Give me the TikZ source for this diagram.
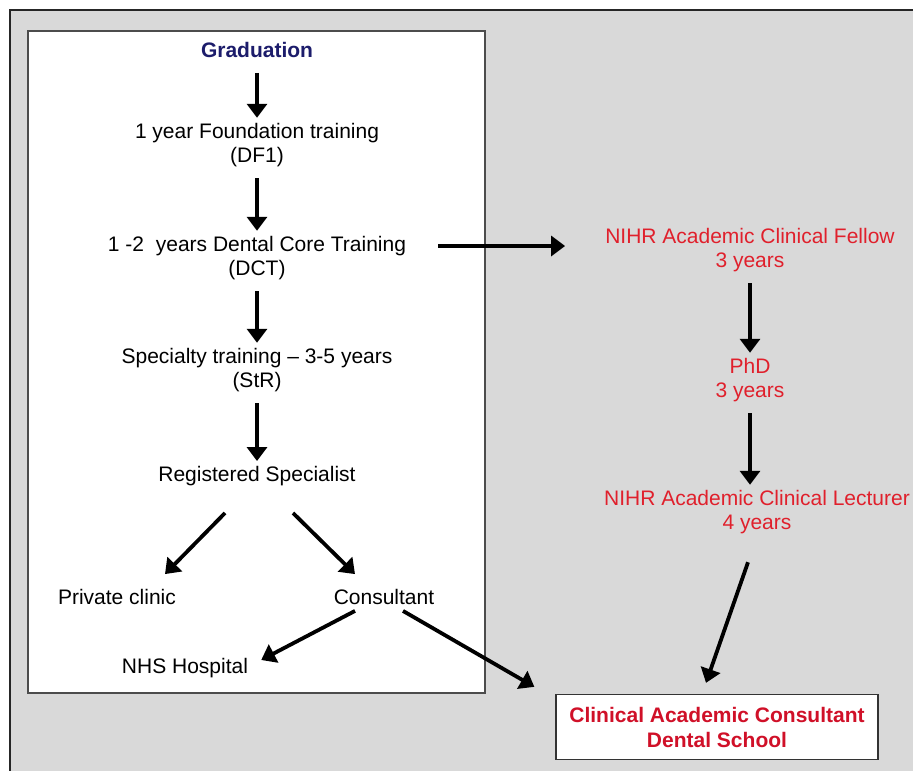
\documentclass[tikz,border=0pt]{standalone}
\usepackage{fontspec}
\setmainfont{Liberation Sans}
\usetikzlibrary{arrows.meta, positioning}

\definecolor{bggray}{HTML}{D9D9D9}
\definecolor{navy}{HTML}{1C1C6B}
\definecolor{acadred}{HTML}{E0202C}
\definecolor{boxred}{HTML}{D01028}

\tikzset{
    stage/.style={align=center, font=\fontsize{21}{24.5}\selectfont, inner sep=2pt},
    acad/.style={stage, text=acadred},
    flow/.style={-{Triangle[length=14pt, width=20pt]}, line width=3.8pt},
}

\begin{document}
\begin{tikzpicture}[x=1pt, y=-1pt]
    \useasboundingbox (0,0) rectangle (913,771);
    \fill[white] (0,0) rectangle (913,771);
    \fill[bggray] (10,10) rectangle (913,771);
    \draw[line width=2.5pt, black!85] (10,790) -- (10,10) -- (930,10);
    \draw[fill=white, draw=black!70, line width=1.3pt] (28,31) rectangle (485,693);

    % clinical path
    \node[stage, text=navy, font=\bfseries\fontsize{21}{24.5}\selectfont] (grad) at (257,50) {Graduation};
    \node[stage] (df1) at (257,145) {1 year Foundation training\\(DF1)};
    \node[stage] (dct) at (257,258) {1 -2\ \ years Dental Core Training\\(DCT)};
    \node[stage] (str) at (257,370) {Specialty training – 3-5 years\\(StR)};
    \node[stage] (reg) at (257,476) {Registered Specialist};
    \node[stage] (priv) at (117,597) {Private clinic};
    \node[stage] (cons) at (384,597) {Consultant};
    \node[stage] (nhs) at (185,668) {NHS Hospital};

    % academic path
    \node[acad] (acf) at (750,250) {NIHR Academic Clinical Fellow\\3 years};
    \node[acad] (phd) at (750,380) {PhD\\3 years};
    \node[acad] (acl) at (757,512) {NIHR Academic Clinical Lecturer\\4 years};
    \node[stage, draw=black!80, line width=1.3pt, fill=white, text=boxred,
          font=\bfseries\fontsize{21}{25}\selectfont,
          minimum width=322pt, minimum height=65pt] (cac) at (717,727)
          {Clinical Academic Consultant\\Dental School};

    \draw[flow] ([yshift=-13pt]grad.south) -- ([yshift=3pt]df1.north);
    \draw[flow] ([yshift=-9pt]df1.south) -- ([yshift=3pt]dct.north);
    \draw[flow] ([yshift=-9pt]dct.south) -- ([yshift=3pt]str.north);
    \draw[flow] ([yshift=-9pt]str.south) -- ([yshift=3pt]reg.north);
    \draw[flow] ([xshift=-32pt, yshift=-25pt]reg.south) -- ([xshift=48pt, yshift=13pt]priv.north);
    \draw[flow] ([xshift=36pt, yshift=-25pt]reg.south) -- ([xshift=-29pt, yshift=13pt]cons.north);
    \draw[flow] ([xshift=-29pt, yshift=-4pt]cons.south) -- ([xshift=11pt, yshift=8pt]nhs.east);
    \draw[flow] ([xshift=19pt, yshift=-4pt]cons.south) -- ([xshift=-21pt, yshift=7pt]cac.north west);

    \draw[flow] ([xshift=30pt, yshift=12pt]dct.east) -- ([xshift=-38pt, yshift=4pt]acf.west);
    \draw[flow] ([yshift=-9pt]acf.south) -- ([yshift=3pt]phd.north);
    \draw[flow] ([yshift=-9pt]phd.south) -- ([xshift=-7pt, yshift=3pt]acl.north);
    \draw[flow] ([xshift=-9pt, yshift=-26pt]acl.south) -- ([xshift=-11pt, yshift=11pt]cac.north);
\end{tikzpicture}
\end{document}
